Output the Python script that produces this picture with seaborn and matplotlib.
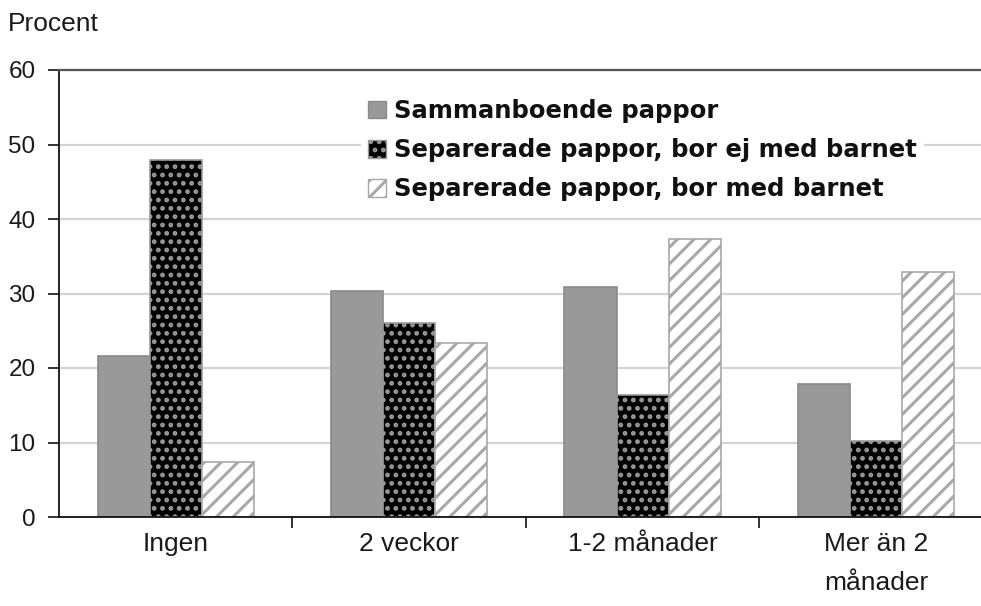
import matplotlib
matplotlib.use("Agg")
import matplotlib.pyplot as plt
import seaborn as sns
import pandas as pd
from matplotlib.patches import Patch

categories = ["Ingen", "2 veckor", "1-2 månader", "Mer än 2\nmånader"]
series_names = ["Sammanboende pappor",
                "Separerade pappor, bor ej med barnet",
                "Separerade pappor, bor med barnet"]
sammanboende = [21.6, 30.3, 30.9, 17.9]
separerade_ej = [47.9, 26.0, 16.4, 10.2]
separerade_med = [7.4, 23.4, 37.3, 32.9]
yticks = [0, 10, 20, 30, 40, 50, 60]

rows = []
for name, vals in zip(series_names, [sammanboende, separerade_ej, separerade_med]):
    for c, v in zip(categories, vals):
        rows.append({"Kategori": c, "Serie": name, "Procent": v})
df = pd.DataFrame(rows)

sns.set_theme(style="white")
plt.rcParams["font.family"] = ["Liberation Sans", "DejaVu Sans"]
plt.rcParams["hatch.linewidth"] = 2.2

fig = plt.figure(figsize=(9.81, 6.06), dpi=100)
ax = fig.add_axes([59 / 981, 1 - 517 / 606, 1 - 59 / 981, (517 - 70) / 606])

palette = ["#999999", "#000000", "#ffffff"]
sns.barplot(data=df, x="Kategori", y="Procent", hue="Serie", order=categories,
            hue_order=series_names, palette=palette, width=0.67, ax=ax,
            saturation=1, errorbar=None, legend=False)

styles = [dict(hatch=None, edgecolor="#8a8a8a"),
          dict(hatch="..", edgecolor="#9a9a9a"),
          dict(hatch="//", edgecolor="#a8a8a8")]
for cont, st in zip(ax.containers, styles):
    for p in cont.patches:
        p.set_edgecolor(st["edgecolor"])
        p.set_linewidth(1.2)
        if st["hatch"]:
            p.set_hatch(st["hatch"])

ax.set_ylim(0, 60)
ax.set_xlim(-0.5, 3.449)
ax.set_yticks(yticks)
ax.set_yticklabels([str(t) for t in yticks])
ax.grid(axis="y", color="#d4d4d4", linewidth=1.6)
ax.set_axisbelow(True)
ax.set_xlabel("")
ax.set_ylabel("")

for s in ["left", "bottom"]:
    ax.spines[s].set_visible(True)
    ax.spines[s].set_color("#111111")
    ax.spines[s].set_linewidth(1.3)
ax.spines["top"].set_visible(True)
ax.spines["top"].set_color("#555555")
ax.spines["top"].set_linewidth(1.6)
ax.spines["right"].set_visible(False)

ax.tick_params(axis="y", which="major", left=True, length=8, width=1.2,
               color="#111111", pad=9, labelsize=17.5, labelcolor="#1a1a1a")
ax.set_xticks(range(len(categories)))
ax.set_xticklabels(categories)
ax.set_xticks([0.5, 1.5, 2.5], minor=True)
ax.tick_params(axis="x", which="major", bottom=True, length=0, pad=11,
               labelsize=19, labelcolor="#1a1a1a")
ax.tick_params(axis="x", which="minor", bottom=True, length=8, width=1.2,
               color="#111111")
for lab in ax.get_xticklabels():
    lab.set_linespacing(1.75)
    lab.set_verticalalignment("top")

handles = [Patch(facecolor=palette[i], edgecolor=styles[i]["edgecolor"],
                 hatch=styles[i]["hatch"], linewidth=1.0) for i in range(3)]
leg = ax.legend(handles, series_names, loc="upper left",
                bbox_to_anchor=((361 - 59) / (981 - 59), 1 - (92 - 70) / (517 - 70)),
                frameon=True, fancybox=False, framealpha=1, facecolor="white",
                edgecolor="none", handlelength=0.72, handleheight=0.72,
                handletextpad=0.32, labelspacing=0.62, borderpad=0.3,
                prop={"family": "DejaVu Sans", "weight": "bold", "size": 17.5},
                borderaxespad=0)
for t in leg.get_texts():
    t.set_color("#111111")

fig.text(8 / 981, 1 - 24 / 606, "Procent", fontsize=19, color="#1a1a1a",
         ha="left", va="center")

fig.savefig("out.png", dpi=100)
